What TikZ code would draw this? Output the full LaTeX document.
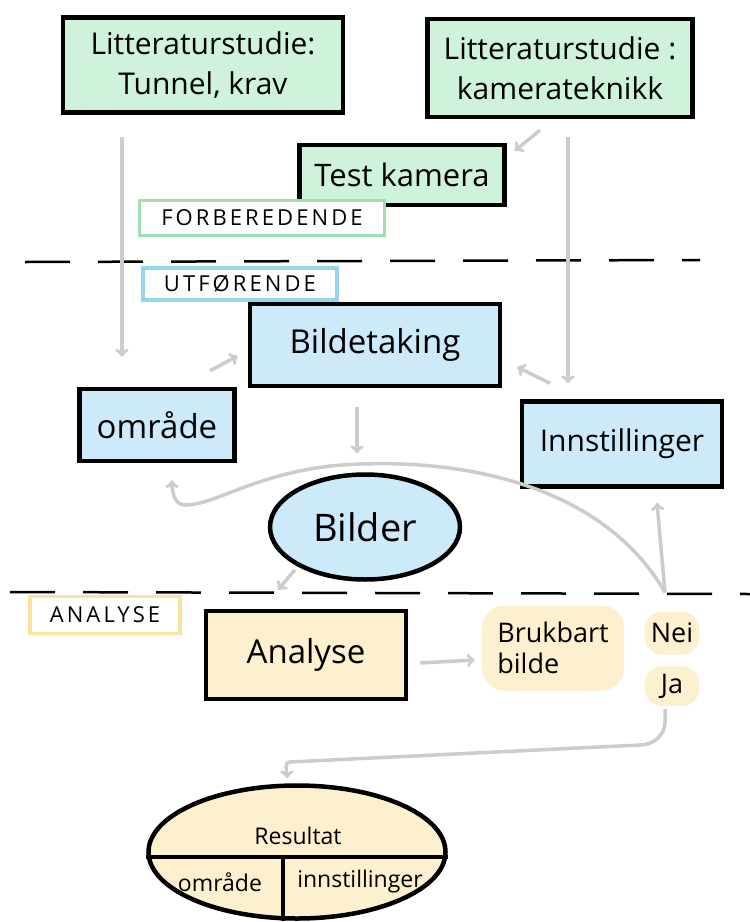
\documentclass[tikz,border=0pt]{standalone}
\usepackage{fontspec}
\setmainfont{Open Sans}
\newfontfamily\tagfont[LetterSpace=14]{Open Sans}
\usetikzlibrary{positioning}
\usetikzlibrary{arrows}
\usetikzlibrary{shapes.geometric}
\definecolor{greenfill}{RGB}{207,242,218}
\definecolor{greenline}{RGB}{160,224,176}
\definecolor{bluefill}{RGB}{204,234,250}
\definecolor{blueline}{RGB}{150,212,242}
\definecolor{yellowfill}{RGB}{253,240,207}
\definecolor{yellowline}{RGB}{251,226,160}
\definecolor{arrowgray}{RGB}{204,204,204}
\tikzset{conn/.style={draw=arrowgray, line width=3.5pt, ->}}
\tikzset{every edge/.style={ % grey connectors between the boxes
			conn}}
\tikzset{box/.style={draw=black, line width=4.5pt, align=center, inner sep=2pt,
			font=\fontsize{30}{40}\selectfont},
		bigtext/.style={font=\fontsize{33}{38}\selectfont},
		greenbox/.style={box, fill=greenfill},
		bluebox/.style={box, fill=bluefill},
		yellowbox/.style={box, fill=yellowfill},
		tagbox/.style={draw, line width=3.5pt, fill=white, inner sep=1pt,
			font=\tagfont\fontsize{22}{24}\selectfont},
		blob/.style={fill=yellowfill, align=left, rounded corners=22pt, inner sep=1pt,
			font=\fontsize{27}{31}\selectfont},
		restext/.style={font=\fontsize{23}{26}\selectfont}}

\begin{document}
\begin{tikzpicture}[x=1pt,y=-1pt,align=center]
			\useasboundingbox[fill=white] (0,0) rectangle (750,922);
			% forberedende
			\node [greenbox, minimum width=280pt, minimum height=95pt] (litA) at (203,65) {Litteraturstudie:\\Tunnel, krav};
			\node [greenbox, minimum width=265pt, minimum height=98pt] (litB) at (560,68) {Litteraturstudie :\\kamerateknikk};
			\node [greenbox, font=\fontsize{31}{36}\selectfont, minimum width=205pt, minimum height=60pt] (test) at (402,175) {Test kamera};
			\node [tagbox, draw=greenline, minimum width=245pt, minimum height=35pt] (forb) at (262,218) {FORBEREDENDE};
			\draw [line width=2.5pt, dash pattern=on 45pt off 28pt] (25,262) -- (700,260);
			% utforende
			\node [tagbox, draw=blueline, minimum width=194pt, minimum height=32pt] (utf) at (240,284) {UTFØRENDE};
			\node [bluebox, bigtext, minimum width=250pt, minimum height=82pt] (bild) at (375,345) {Bildetaking};
			\node [bluebox, bigtext, minimum width=155pt, minimum height=72pt] (omr) at (157,425) {område};
			\node [bluebox, minimum width=200pt, minimum height=85pt] (inn) at (622,444) {Innstillinger};
			\node [ellipse, bluebox, font=\fontsize{38}{42}\selectfont, minimum width=190pt, minimum height=105pt] (bilder) at (365,527) {Bilder};
			\draw [line width=2.5pt, dash pattern=on 45pt off 28pt] (10,592) -- (750,594);
			% analyse
			\node [tagbox, draw=yellowline, minimum width=150pt, minimum height=37pt] (ana) at (105,615) {ANALYSE};
			\node [yellowbox, bigtext, minimum width=200pt, minimum height=88pt] (analyse) at (306,655) {Analyse};
			\node [blob, minimum width=142pt, minimum height=85pt] (bruk) at (553,648) {Brukbart\\bilde};
			\node [blob, rounded corners=18pt, minimum width=55pt, minimum height=43pt] (nei) at (672,633) {Nei};
			\node [blob, rounded corners=18pt, minimum width=55pt, minimum height=40pt] (ja) at (672,686) {Ja};
			\node [ellipse, yellowbox, minimum width=297pt, minimum height=133pt] (res) at (297,852) {};
			\draw [line width=4pt] ([yshift=-5pt]res.west) -- ([yshift=-5pt]res.east);
			\draw [line width=4pt] ([xshift=-14pt]res.south) -- ([xshift=-14pt,yshift=-5pt]res.center);
			\node [restext] (resT) at (298,836) {Resultat};
			\node [restext] (resO) at (220,882) {område};
			\node [restext] (resI) at (360,882) {innstillinger};
			
			\draw ([xshift=-81pt,yshift=-22pt]litA.south) edge ([xshift=-35pt,yshift=30pt]omr.north)
				([xshift=8pt,yshift=-18pt]litB.south) edge ([xshift=-54pt,yshift=16pt]inn.north)
				([xshift=-20pt,yshift=-11pt]litB.south) edge ([xshift=8pt,yshift=-8pt]test.north east)
				([xshift=53pt,yshift=16pt]omr.north) edge ([xshift=-10pt,yshift=-11pt]bild.west)
				([xshift=-72pt,yshift=16pt]inn.north) edge ([xshift=15pt,yshift=-22pt]bild.east)
				([xshift=-18pt,yshift=-19pt]bild.south) edge ([xshift=-8pt,yshift=19pt]bilder.north)
				([xshift=-70pt,yshift=12pt]bilder.south) edge ([xshift=-28pt,yshift=19pt]analyse.north)
				([xshift=12pt,yshift=-8pt]analyse.east) edge ([xshift=-7pt,yshift=-12pt]bruk.west)
				([xshift=-7pt,yshift=19pt]nei.north) edge ([xshift=35pt,yshift=-14pt]inn.south);
			\draw [conn] ([xshift=-7pt,yshift=19pt]nei.north) .. controls (600,480) and (450,455) .. (330,466)
				.. controls (250,476) and (215,505) .. (185,505) to[out=180,in=-90] ([xshift=15pt,yshift=-17pt]omr.south);
			\draw [conn] ([xshift=-7pt,yshift=-3pt]ja.south) -- (665,722) to[out=-90,in=0] (640,745)
				-- (290,762) to[out=180,in=90] ([xshift=-10pt,yshift=5pt]res.north);
		\end{tikzpicture}
\end{document}
